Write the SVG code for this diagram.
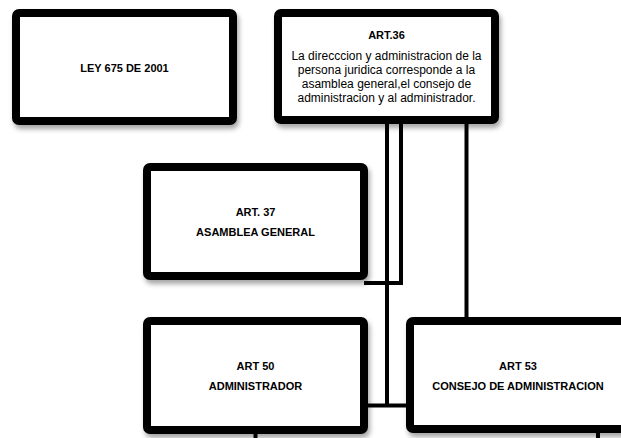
<svg xmlns="http://www.w3.org/2000/svg" width="621" height="438" viewBox="0 0 621 438">
<style>
.box{fill:#fff;stroke:#000;stroke-width:8;filter:url(#sh)}
.t{font-family:"Liberation Sans",Arial,sans-serif;font-size:11px;font-weight:bold;text-anchor:middle;fill:#000}
.b{font-family:"Liberation Sans",Arial,sans-serif;font-size:12px;text-anchor:middle;fill:#000}
.c{stroke:#000;stroke-width:4;fill:none}
</style>
<defs>
<filter id="sh" x="-10%" y="-10%" width="125%" height="130%">
<feDropShadow dx="2" dy="4" stdDeviation="2.5" flood-color="#000" flood-opacity="0.35"/>
</filter>
</defs>
<rect width="621" height="438" fill="#fff"/>
<g id="ley675">
<rect class="box" x="16" y="13" width="217" height="108" rx="3"/>
<text class="t" x="124.5" y="72">LEY 675 DE 2001</text>
</g>
<g id="art36">
<rect class="box" x="278" y="13" width="217" height="107" rx="3"/>
<text class="t" x="386.5" y="39">ART.36</text>
<text class="b" x="386.5" y="60">La direcccion y administracion de la</text>
<text class="b" x="386.5" y="74">persona juridica corresponde a la</text>
<text class="b" x="386.5" y="88">asamblea general,el consejo de</text>
<text class="b" x="386.5" y="102">administracion y al administrador.</text>
</g>
<g id="art37">
<rect class="box" x="147" y="167" width="217" height="109" rx="3"/>
<text class="t" x="255.5" y="216">ART. 37</text>
<text class="t" x="255.5" y="236">ASAMBLEA GENERAL</text>
</g>
<g id="art50">
<rect class="box" x="147" y="321" width="217" height="109" rx="3"/>
<text class="t" x="255.5" y="370">ART 50</text>
<text class="t" x="255.5" y="390">ADMINISTRADOR</text>
</g>
<g id="art53">
<rect class="box" x="410" y="321" width="230" height="108" rx="3"/>
<text class="t" x="518" y="370">ART 53</text>
<text class="t" x="518" y="390">CONSEJO DE ADMINISTRACION</text>
</g>
<g id="connectors">
<path class="c" d="M387 124 V405.5 M364 405.5 H410"/>
<path class="c" d="M401 124 V283 H364"/>
<path class="c" d="M466.5 124 V321"/>
<path class="c" d="M255.5 430 V438"/>
<path class="c" d="M598 429 V438"/>
</g>
</svg>
